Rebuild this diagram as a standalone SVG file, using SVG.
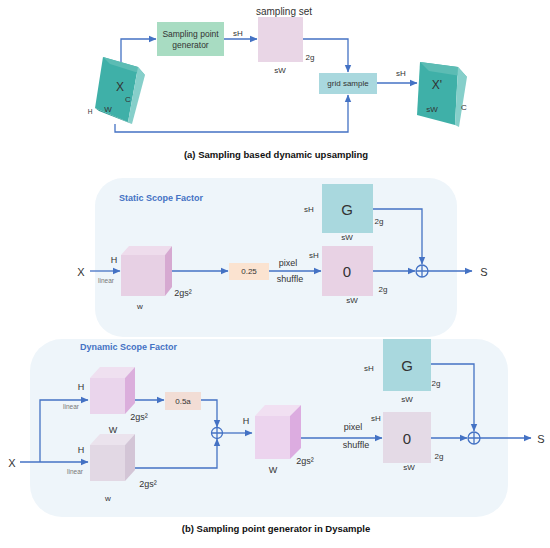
<svg xmlns="http://www.w3.org/2000/svg" width="550" height="548" viewBox="0 0 550 548">
<defs>
<marker id="ah" markerWidth="8" markerHeight="8" refX="7" refY="4" orient="auto" markerUnits="userSpaceOnUse">
<path d="M0,0.8 L7.5,4 L0,7.2 Z" fill="#4472c4"/>
</marker>
<style>
.c{fill:none;stroke:#4472c4;stroke-width:1.3}
.t{font-family:"Liberation Sans",Arial,sans-serif;fill:#333;text-anchor:middle;dominant-baseline:central}
.s{font-size:8px}
.m{font-size:9px}
.lin{font-size:6.5px;fill:#777}
.hd{font-family:"Liberation Sans",Arial,sans-serif;font-size:9px;font-weight:bold;fill:#4472c4;dominant-baseline:central}
.ti{font-size:9.5px;font-weight:bold;fill:#111}
.teal{fill:#a9d8de}
</style>
</defs>
<rect width="550" height="548" fill="#fff"/>

<!-- panels -->
<g id="panel-static"><rect x="95" y="178" width="362" height="159" rx="28" fill="#eef5fa"/></g>
<g id="panel-dynamic"><rect x="30" y="339" width="478" height="178" rx="32" fill="#eef5fa"/></g>

<!-- connectors -->
<g id="connectors">
<path class="c" d="M121,62 V39 H156" marker-end="url(#ah)"/>
<path class="c" d="M224,39 H257" marker-end="url(#ah)"/>
<path class="c" d="M303,39 H348 V72" marker-end="url(#ah)"/>
<path class="c" d="M115,124 V132 H348 V95" marker-end="url(#ah)"/>
<path class="c" d="M377,83 H417" marker-end="url(#ah)"/>
<path class="c" d="M90,271 H120" marker-end="url(#ah)"/>
<path class="c" d="M172,271 H228" marker-end="url(#ah)"/>
<path class="c" d="M269,271 H321" marker-end="url(#ah)"/>
<path class="c" d="M373,209 H422 V264" marker-end="url(#ah)"/>
<path class="c" d="M373,271 H415" marker-end="url(#ah)"/>
<path class="c" d="M428,271 H472" marker-end="url(#ah)"/>
<path class="c" d="M20,462 H88" marker-end="url(#ah)"/>
<path class="c" d="M40,462 V400 H88" marker-end="url(#ah)"/>
<path class="c" d="M126,400 H164" marker-end="url(#ah)"/>
<path class="c" d="M201,400 H217 V427" marker-end="url(#ah)"/>
<path class="c" d="M126,468 H217 V439" marker-end="url(#ah)"/>
<path class="c" d="M222.5,433 H252" marker-end="url(#ah)"/>
<path class="c" d="M290,438 H382" marker-end="url(#ah)"/>
<path class="c" d="M431,364 H474 V431" marker-end="url(#ah)"/>
<path class="c" d="M431,438 H467" marker-end="url(#ah)"/>
<path class="c" d="M480,438 H531" marker-end="url(#ah)"/>
<circle class="c" cx="422" cy="271" r="6"/>
<path class="c" d="M416,271 H428 M422,265 V277"/>
<circle class="c" cx="217" cy="433" r="5.5"/>
<path class="c" d="M211.5,433 H222.5 M217,427.5 V438.5"/>
<circle class="c" cx="474" cy="438" r="6"/>
<path class="c" d="M468,438 H480 M474,432 V444"/>
</g>

<!-- (a) nodes -->
<g id="X-cube">
<polygon points="103,57 138,67 128,122 95,108" fill="#3fb0a8"/>
<polygon points="103,57 138,67 145,75 110,64" fill="#5cbcb4"/>
<polygon points="138,67 145,75 132,124 128,122" fill="#86cfca"/>
<polygon points="95,108 128,122 132,124 99,111" fill="#2f9a93"/>
<text class="t" x="120" y="87" font-size="12">X</text>
<text class="t s" x="128" y="99">C</text>
<text class="t s" x="108" y="109">W</text>
<text class="t" x="90" y="111" font-size="6.5">H</text>
</g>
<g id="sampling-point-generator">
<rect x="157" y="22" width="67" height="34" fill="#a8dcc2"/>
<text class="t" x="190.5" y="34" font-size="8.5">Sampling point</text>
<text class="t" x="190.5" y="45" font-size="8.5">generator</text>
<text class="t s" x="238" y="33">sH</text>
</g>
<g id="sampling-set">
<rect x="258" y="17" width="45" height="45" fill="#e9d6e6"/>
<text class="t" x="284" y="11" font-size="10">sampling set</text>
<text class="t s" x="310" y="57">2g</text>
<text class="t s" x="280" y="70">sW</text>
</g>
<g id="grid-sample">
<rect x="319" y="73" width="58" height="21" fill="#a9d8de"/>
<text class="t" x="348" y="83.5" font-size="8">grid sample</text>
<text class="t s" x="401" y="73">sH</text>
</g>
<g id="Xp-cube">
<polygon points="420,62 458,67 455,125 417,115" fill="#3fb0a8"/>
<polygon points="420,62 458,67 467,77 429,71" fill="#5cbcb4"/>
<polygon points="458,67 467,77 459,127 455,125" fill="#86cfca"/>
<text class="t" x="437" y="85" font-size="12">X'</text>
<text class="t s" x="432" y="109">sW</text>
<text class="t s" x="464" y="107">C</text>
</g>
<text class="t ti" x="276" y="154">(a) Sampling based dynamic upsampling</text>

<!-- (b) static -->
<text class="hd" x="119" y="198">Static  Scope Factor</text>
<g id="static-input">
<text class="t" x="81" y="272" font-size="11">X</text>
<text class="t lin" x="106" y="280">linear</text>
</g>
<g id="static-cube">
<polygon points="121,255 165,255 165,296 121,296" fill="#e7d0e4"/>
<polygon points="121,255 129,246 172,246 165,255" fill="#eedcec"/>
<polygon points="165,255 172,246 172,287 165,296" fill="#d6a9d1"/>
<text class="t m" x="114" y="260">H</text>
<text class="t s" x="140" y="306">w</text>
<text class="t m" x="183" y="293">2gs²</text>
</g>
<g id="static-scale">
<rect x="229" y="263" width="40" height="17" fill="#fbe3d0"/>
<text class="t s" x="249" y="271.5">0.25</text>
<text class="t m" x="288" y="263">pixel</text>
<text class="t m" x="290" y="279">shuffle</text>
</g>
<g id="static-G">
<rect x="322" y="184" width="51" height="49" class="teal"/>
<text class="t" x="347" y="209" font-size="15">G</text>
<text class="t s" x="309" y="209">sH</text>
<text class="t s" x="379" y="221">2g</text>
<text class="t s" x="347" y="237">sW</text>
</g>
<g id="static-O">
<rect x="322" y="246" width="51" height="50" fill="#e8d2e4"/>
<text class="t" x="347" y="271" font-size="15">0</text>
<text class="t s" x="314" y="255">sH</text>
<text class="t s" x="383" y="289">2g</text>
<text class="t s" x="352" y="300">sW</text>
</g>
<g id="static-S"><text class="t" x="484" y="272" font-size="11">S</text></g>

<!-- (b) dynamic -->
<text class="hd" x="80" y="347">Dynamic  Scope Factor</text>
<g id="dyn-input"><text class="t" x="12" y="463" font-size="11">X</text></g>
<g id="dyn-cube1">
<polygon points="90,378 125,378 125,414 90,414" fill="#ead5ec"/>
<polygon points="90,378 100,367 135,367 125,378" fill="#efe0f0"/>
<polygon points="125,378 135,367 135,403 125,414" fill="#dbaedc"/>
<text class="t m" x="81" y="387">H</text>
<text class="t lin" x="71" y="406">linear</text>
<text class="t m" x="139" y="417">2gs²</text>
<text class="t m" x="113" y="430">W</text>
</g>
<g id="dyn-cube2">
<polygon points="90,445 125,445 125,481 90,481" fill="#e2d8e4"/>
<polygon points="90,445 100,434 135,434 125,445" fill="#ebe3ed"/>
<polygon points="125,445 135,434 135,470 125,481" fill="#d3c5d6"/>
<text class="t m" x="81" y="450">H</text>
<text class="t lin" x="75" y="471">linear</text>
<text class="t m" x="148" y="484">2gs²</text>
<text class="t s" x="108" y="498">w</text>
</g>
<g id="dyn-scale">
<rect x="165" y="392" width="36" height="18" fill="#f2ddd5"/>
<text class="t s" x="183" y="401">0.5a</text>
</g>
<g id="dyn-cube3">
<polygon points="255,416 290,416 290,459 255,459" fill="#ecd4ee"/>
<polygon points="255,416 265,405 301,405 290,416" fill="#f1e0f2"/>
<polygon points="290,416 301,405 301,448 290,459" fill="#dcace0"/>
<text class="t m" x="246" y="421">H</text>
<text class="t m" x="273" y="470">W</text>
<text class="t m" x="305" y="461">2gs²</text>
<text class="t m" x="353" y="427">pixel</text>
<text class="t m" x="356" y="445">shuffle</text>
</g>
<g id="dyn-G">
<rect x="383" y="339" width="48" height="52" class="teal"/>
<text class="t" x="407" y="365" font-size="15">G</text>
<text class="t s" x="369" y="368">sH</text>
<text class="t s" x="436" y="383">2g</text>
<text class="t s" x="407" y="399">sW</text>
</g>
<g id="dyn-O">
<rect x="383" y="412" width="48" height="51" fill="#e4dae6"/>
<text class="t" x="407" y="438" font-size="15">0</text>
<text class="t s" x="376" y="418">sH</text>
<text class="t s" x="439" y="456">2g</text>
<text class="t s" x="409" y="467">sW</text>
</g>
<g id="dyn-S"><text class="t" x="541" y="439" font-size="11">S</text></g>
<text class="t ti" x="276" y="528">(b) Sampling point generator in Dysample</text>
</svg>
